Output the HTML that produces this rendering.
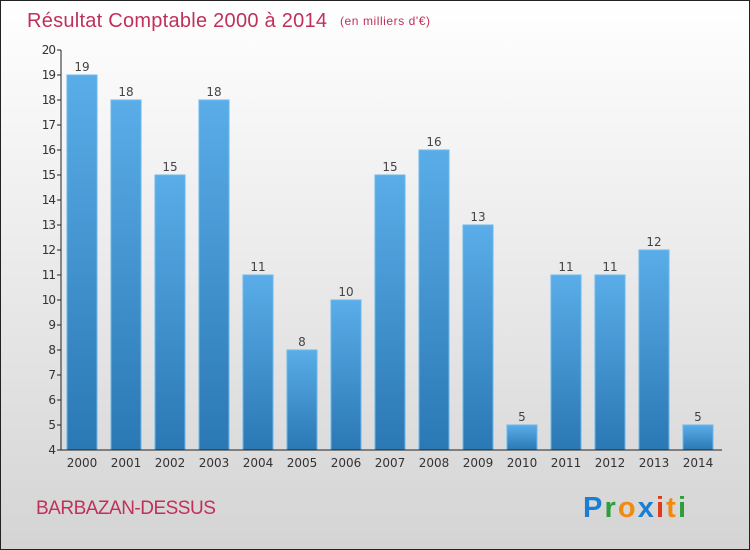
<!DOCTYPE html>
<html><head><meta charset="utf-8"><style>
body{margin:0;width:750px;height:550px;overflow:hidden}
svg{display:block;font-family:"DejaVu Sans","Liberation Sans",sans-serif}
</style></head><body>
<svg width="750" height="550">
<defs>
<linearGradient id="bg" x1="0" y1="0" x2="0" y2="1"><stop offset="0" stop-color="#ffffff"/><stop offset="1" stop-color="#d4d4d4"/></linearGradient>
<linearGradient id="bar" x1="0" y1="0" x2="0" y2="1"><stop offset="0" stop-color="#5aade8"/><stop offset="1" stop-color="#2a78b4"/></linearGradient>
</defs>
<rect x="0.5" y="0.5" width="749" height="549" fill="url(#bg)" stroke="#222"/>
<text x="27" y="27" font-size="20" fill="#c0305a" style="font-family:'Liberation Sans',sans-serif" textLength="300">Résultat Comptable 2000 à 2014</text>
<text x="340" y="25" font-size="12" fill="#c0305a" style="font-family:'Liberation Sans',sans-serif" textLength="90">(en milliers d'€)</text>
<g id="plot"></g>
<text x="36" y="514" font-size="19" fill="#c0305a" style="font-family:'Liberation Sans',sans-serif;letter-spacing:-0.5px">BARBAZAN-DESSUS</text>
<text x="583" y="517" font-size="29" font-weight="bold" textLength="103" style="font-family:'Liberation Sans',sans-serif"><tspan fill="#1a7fd4">P</tspan><tspan fill="#2e9e3a">r</tspan><tspan fill="#f08a10">o</tspan><tspan fill="#1a7fd4">x</tspan><tspan fill="#e03a1a">i</tspan><tspan fill="#f08a10">t</tspan><tspan fill="#2e9e3a">i</tspan></text>
</svg>
<script>
const categories=["2000","2001","2002","2003","2004","2005","2006","2007","2008","2009","2010","2011","2012","2013","2014"];
const values=[19,18,15,18,11,8,10,15,16,13,5,11,11,12,5];
const yTicks=[4,5,6,7,8,9,10,11,12,13,14,15,16,17,18,19,20];
const NS="http://www.w3.org/2000/svg";
const g=document.getElementById('plot');
const y=v=>450-(v-4)*25;
const x=i=>82+i*44;
function mk(t,a,txt){const e=document.createElementNS(NS,t);for(const k in a)e.setAttribute(k,a[k]);if(txt!=null)e.textContent=txt;g.appendChild(e);return e;}
values.forEach((v,i)=>{
 const r=mk('rect',{x:x(i)-15,y:y(v),width:30,height:450-y(v),fill:'url(#bar)',stroke:'#6ab8ee','stroke-width':1});
 
 
 const l=mk('text',{x:x(i),y:y(v)-4,'font-size':12,fill:'#444','text-anchor':'middle'},String(v));
 
 
 const c=mk('text',{x:x(i),y:467,'font-size':12,fill:'#333','text-anchor':'middle'},categories[i]);
 
 
});
yTicks.forEach(t=>{
 const tk=mk('line',{x1:57,x2:61,y1:y(t),y2:y(t),stroke:'#222'});
 
 
 const l=mk('text',{x:55,y:y(t)+4,'font-size':12,fill:'#333','text-anchor':'end','letter-spacing':'-1'},String(t));
 
 
});
const ya=mk('line',{x1:61,x2:61,y1:50,y2:450,stroke:'#222'});


const xa=mk('line',{x1:61,x2:722,y1:450,y2:450,stroke:'#222'});


</script>
</body></html>
